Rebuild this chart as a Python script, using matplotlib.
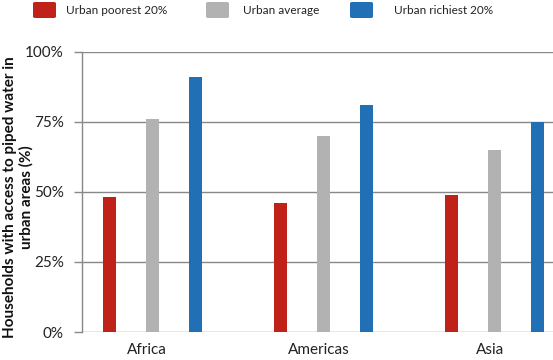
import matplotlib.pyplot as plt
import numpy as np
from matplotlib.patches import FancyBboxPatch

# data
regions = ["Africa", "Americas", "Asia"]
series = ["Urban poorest 20%", "Urban average", "Urban richiest 20%"]
poorest = [48, 46, 49]
average = [76, 70, 65]
richest = [91, 81, 75]
colors = ["#C0221A", "#B2B2B2", "#216FB5"]

plt.rcParams["font.family"] = ["Lato", "DejaVu Sans"]

fig = plt.figure(figsize=(5.53, 3.6), dpi=100)
ax = fig.add_axes([82 / 553, 1 - 332 / 360, 1 - 82 / 553, (332 - 51.7) / 360])

x = np.arange(len(regions))
width = 0.076
offset = 0.251
for i, vals in enumerate([poorest, average, richest]):
    ax.bar(x + (i - 1) * offset, vals, width, color=colors[i], zorder=3)

ax.set_xlim(-0.41, 2.339)
ax.set_ylim(0, 100)
ax.set_yticks([0, 25, 50, 75, 100])
ax.set_yticklabels([f"{v}%" for v in [0, 25, 50, 75, 100]], fontsize=11, color="#222222")
ax.set_xticks(x - 0.03)
ax.set_xticklabels(regions, fontsize=11, color="#222222")
ax.tick_params(axis="x", length=0, pad=8)
ax.tick_params(axis="y", length=6, width=1, color="#888888", direction="out", pad=7)

ax.grid(axis="y", color="#888888", linewidth=1, zorder=0)
for s in ["top", "right", "bottom"]:
    ax.spines[s].set_visible(False)
ax.spines["left"].set_color("#888888")
ax.spines["left"].set_linewidth(1)

fig.text(18 / 553, 1 - 197 / 360,
         "Households with access to piped water in\nurban areas (%)",
         rotation=90, ha="center", va="center", fontsize=11, fontweight="bold",
         color="#111111", linespacing=1.2)

# legend
leg_x = [33, 206, 350]
txt_x = [66, 243, 394]
for px, tx, c, lab in zip(leg_x, txt_x, colors, series):
    p = FancyBboxPatch((px / 553, 1 - 18 / 360), 23 / 553, 16 / 360,
                       boxstyle="round,pad=0,rounding_size=0.004",
                       transform=fig.transFigure, facecolor=c, edgecolor="none")
    fig.patches.append(p)
    fig.text(tx / 553, 1 - 10 / 360, lab, fontsize=8.5, ha="left", va="center",
             color="#222222")

fig.savefig("out.png", dpi=100)
